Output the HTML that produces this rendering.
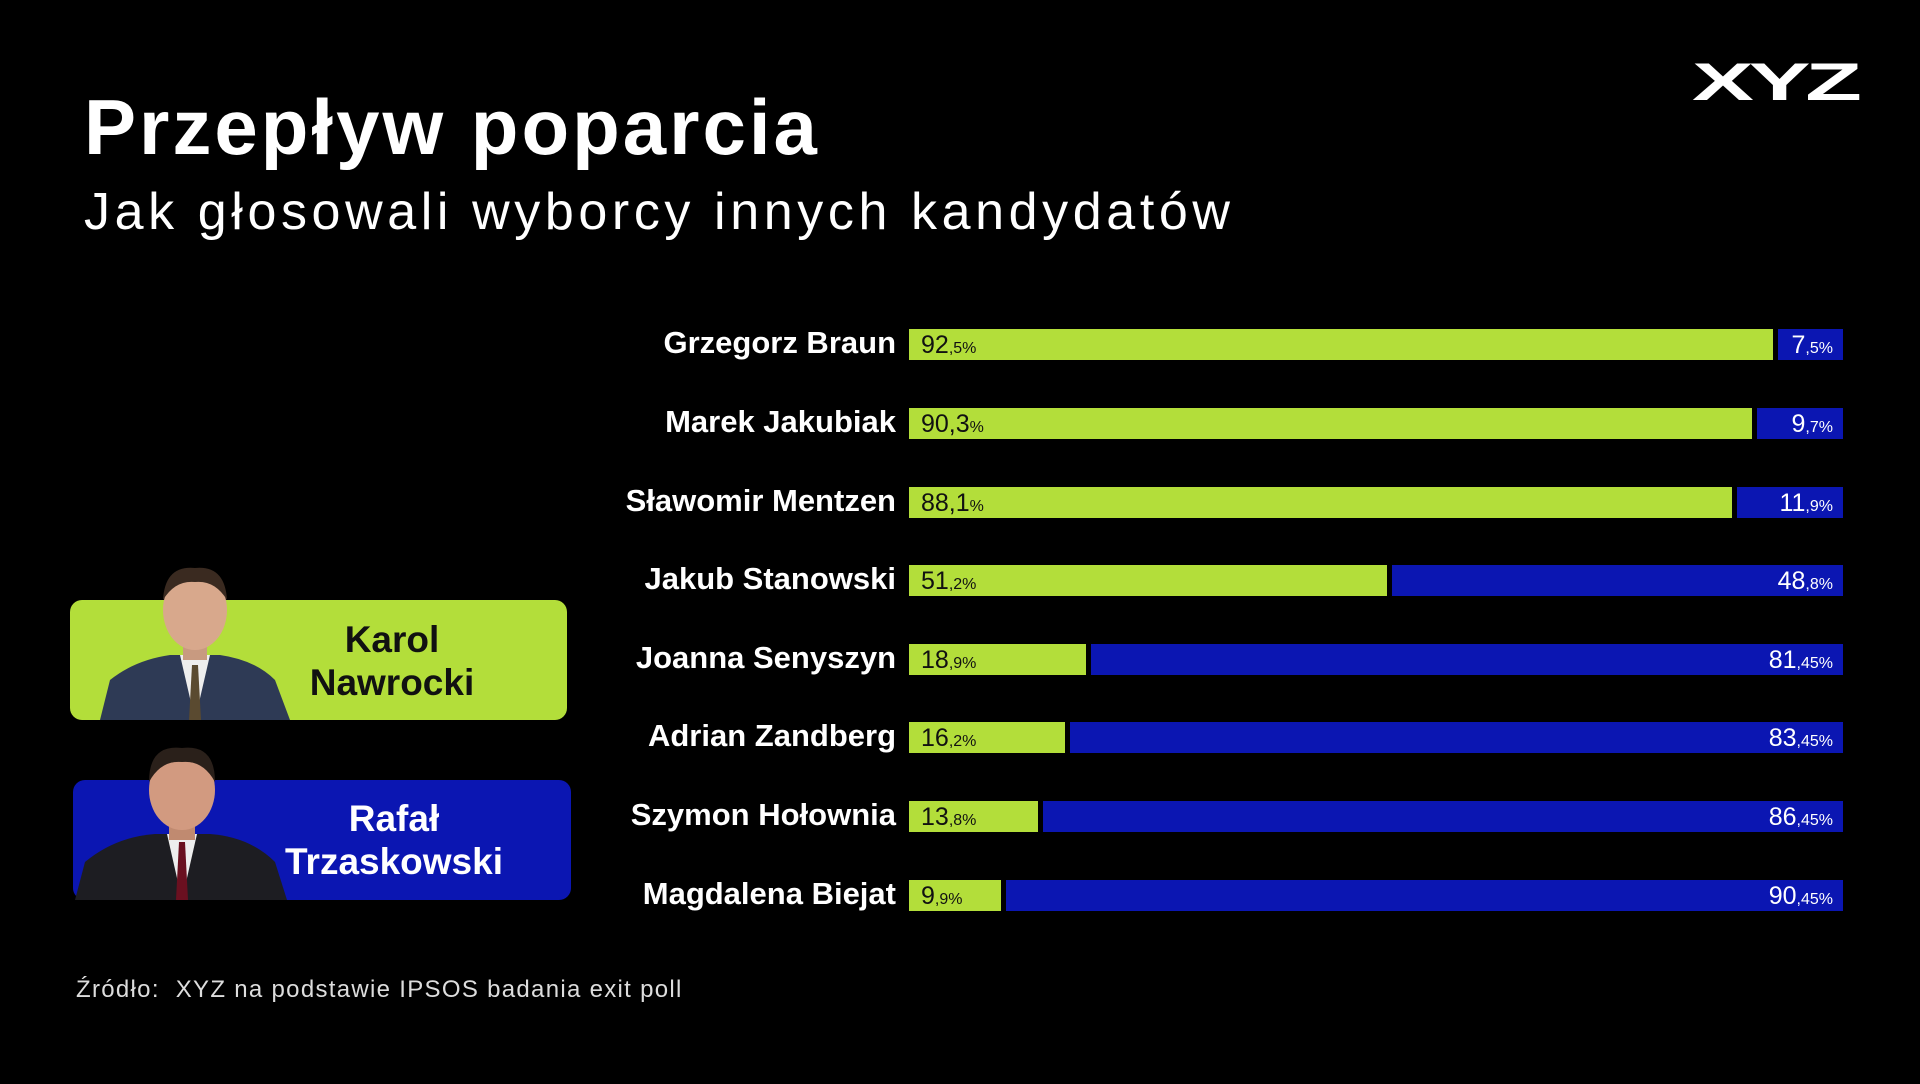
<!DOCTYPE html>
<html><head><meta charset="utf-8"><style>
html,body{margin:0;padding:0;background:#000;}
body{width:1920px;height:1084px;position:relative;overflow:hidden;font-family:"Liberation Sans",sans-serif;color:#fff;}
.t{position:absolute;left:84px;top:82px;font-size:78px;font-weight:bold;letter-spacing:3px;}
.s{position:absolute;left:84px;top:182px;font-size:52px;letter-spacing:4.6px;}
.logo{position:absolute;left:1692px;top:52px;font-size:53px;font-weight:900;letter-spacing:-3px;transform:scaleX(1.75);transform-origin:left;}
.row{position:absolute;left:0;width:1920px;height:31px;}
.nm{position:absolute;right:1024px;top:-4px;font-size:31px;font-weight:bold;white-space:nowrap;}
.bar{position:absolute;left:909px;width:934px;height:31px;display:flex;}
.g{background:#b3de3a;color:#111;height:31px;font-size:25px;line-height:33px;padding-left:12px;box-sizing:border-box;white-space:nowrap;}
.b{background:#0b16b2;color:#fff;height:31px;margin-left:5px;flex:1;font-size:25px;line-height:33px;text-align:right;padding-right:10px;box-sizing:border-box;white-space:nowrap;}
small{font-size:16px;}
.box{position:absolute;border-radius:12px;overflow:hidden;}
.bn{position:absolute;font-size:37px;font-weight:bold;text-align:center;line-height:43px;width:240px;}
.src{position:absolute;left:76px;top:976px;font-size:24px;color:#ddd;letter-spacing:1.3px;}
</style></head><body>
<div class="t">Przepływ poparcia</div>
<div class="s">Jak głosowali wyborcy innych kandydatów</div>
<div class="logo">XYZ</div>

<div class="row" style="top:329px"><div class="nm">Grzegorz Braun</div><div class="bar"><div class="g" style="width:92.5%">92<small>,5%</small></div><div class="b">7<small>,5%</small></div></div></div>
<div class="row" style="top:408px"><div class="nm">Marek Jakubiak</div><div class="bar"><div class="g" style="width:90.3%">90,3<small>%</small></div><div class="b">9<small>,7%</small></div></div></div>
<div class="row" style="top:487px"><div class="nm">Sławomir Mentzen</div><div class="bar"><div class="g" style="width:88.1%">88,1<small>%</small></div><div class="b">11<small>,9%</small></div></div></div>
<div class="row" style="top:565px"><div class="nm">Jakub Stanowski</div><div class="bar"><div class="g" style="width:51.2%">51<small>,2%</small></div><div class="b">48<small>,8%</small></div></div></div>
<div class="row" style="top:644px"><div class="nm">Joanna Senyszyn</div><div class="bar"><div class="g" style="width:18.9%">18<small>,9%</small></div><div class="b">81<small>,45%</small></div></div></div>
<div class="row" style="top:722px"><div class="nm">Adrian Zandberg</div><div class="bar"><div class="g" style="width:16.7%">16<small>,2%</small></div><div class="b">83<small>,45%</small></div></div></div>
<div class="row" style="top:801px"><div class="nm">Szymon Hołownia</div><div class="bar"><div class="g" style="width:13.8%">13<small>,8%</small></div><div class="b">86<small>,45%</small></div></div></div>
<div class="row" style="top:880px"><div class="nm">Magdalena Biejat</div><div class="bar"><div class="g" style="width:9.9%">9<small>,9%</small></div><div class="b">90<small>,45%</small></div></div></div>

<div class="box" style="left:70px;top:600px;width:497px;height:120px;background:#b3de3a;"></div>
<svg style="position:absolute;left:95px;top:560px" width="200" height="160">
<path d="M5 160 L15 120 Q40 100 75 95 L125 95 Q160 100 180 120 L195 160 Z" fill="#2e3a55"/>
<path d="M85 95 L100 160 L115 95 Z" fill="#eee"/><path d="M97 105 L103 105 L106 160 L94 160Z" fill="#5a4a30"/>
<rect x="88" y="70" width="24" height="30" fill="#c89a80"/>
<ellipse cx="100" cy="50" rx="32" ry="40" fill="#d8a88c"/><path d="M68 40 Q70 5 100 8 Q130 5 132 40 Q120 20 100 22 Q80 20 68 40Z" fill="#3a2a20"/>
</svg>
<div class="bn" style="left:272px;top:618px;color:#111">Karol<br>Nawrocki</div>

<div class="box" style="left:73px;top:780px;width:498px;height:120px;background:#0b16b2;"></div>
<svg style="position:absolute;left:75px;top:742px" width="215" height="158">
<path d="M0 158 L10 120 Q40 95 80 92 L135 92 Q175 95 200 120 L212 158 Z" fill="#1d1d22"/>
<path d="M92 92 L107 158 L122 92 Z" fill="#eee"/><path d="M104 100 L110 100 L113 158 L101 158Z" fill="#6a1020"/>
<rect x="94" y="68" width="26" height="30" fill="#c08a70"/>
<ellipse cx="107" cy="48" rx="33" ry="40" fill="#d29a80"/><path d="M74 40 Q74 2 107 6 Q140 2 140 40 Q128 18 107 20 Q86 18 74 40Z" fill="#2a201a"/>
</svg>
<div class="bn" style="left:274px;top:797px;color:#fff">Rafał<br>Trzaskowski</div>

<div class="src">Źródło:&nbsp; XYZ na podstawie IPSOS badania exit poll</div>
</body></html>
